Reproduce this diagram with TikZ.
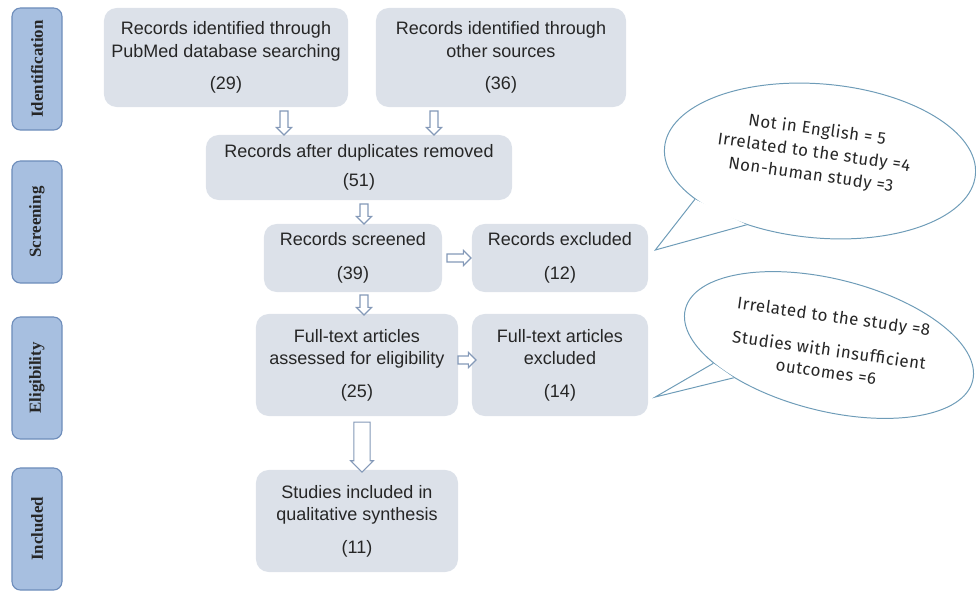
\documentclass[tikz,border=0pt]{standalone}
\usepackage{fontspec}
\setmainfont{Liberation Sans}
\newfontfamily\sidefont{Liberation Serif}
\newfontfamily\notefont[LetterSpace=3]{Fira Sans}
\usetikzlibrary{positioning, calc, shapes.arrows, shapes.geometric}

\definecolor{boxgray}{HTML}{DCE1E9}
\definecolor{sideblue}{HTML}{A7BFE0}
\definecolor{sideedge}{HTML}{6E8DBB}
\definecolor{arrowedge}{HTML}{8499B8}
\definecolor{noteedge}{HTML}{6E9CB8}

\tikzset{
  stage/.style={rectangle, rounded corners=6pt, fill=sideblue, draw=sideedge, line width=0.8pt,
    minimum width=3.05cm, minimum height=1.25cm, rotate=90,
    font=\sidefont\bfseries\fontsize{12}{14}\selectfont, text=black!85},
  record/.style={rectangle, rounded corners=9pt, fill=boxgray, align=center,
    font=\fontsize{12.8}{16}\selectfont, text=black!85, inner sep=2pt},
  downarrow/.style={single arrow, draw=arrowedge, fill=white, line width=0.8pt,
    shape border rotate=270, inner sep=0.85mm, minimum width=3.5mm,
    single arrow head extend=0.9mm, minimum height=6mm},
  rightarrow/.style={downarrow, shape border rotate=0},
  note/.style={ellipse, draw=noteedge, fill=white, line width=0.7pt, inner sep=0pt},
  notetail/.style={draw=noteedge, fill=white, line width=0.7pt, line join=miter},
  notetext/.style={align=center, rotate=-8, font=\notefont\fontsize{12}{16.3}\selectfont, text=black!85}
}

\begin{document}
\begin{tikzpicture}[x=0.025cm, y=-0.025cm]
  \useasboundingbox (0,0) rectangle (976,593);

  % Stage labels on the left
  \node[stage] (ident)  at (37,69)  {Identification};
  \node[stage] (screen) at (37,222) {Screening};
  \node[stage] (elig)   at (37,378) {Eligibility};
  \node[stage] (incl)   at (37,529) {Included};

  % Record boxes
  \node[record, minimum width=6.1cm, minimum height=2.475cm] (pubmed) at (226,57.5)
    {Records identified through\\PubMed database searching\\[7pt](29)};
  \node[record, minimum width=6.25cm, minimum height=2.475cm] (other) at (501,57.5)
    {Records identified through\\other sources\\[7pt](36)};
  \node[record, minimum width=7.65cm, minimum height=1.625cm] (dedup) at (359,167.5)
    {Records after duplicates removed\\[5pt](51)};
  \node[record, minimum width=4.45cm, minimum height=1.7cm] (screened) at (353,258)
    {Records screened\\[8pt](39)};
  \node[record, minimum width=4.4cm, minimum height=1.7cm] (excl) at (560,258)
    {Records excluded\\[8pt](12)};
  \node[record, minimum width=5.05cm, minimum height=2.55cm] (fulltext) at (357,365)
    {Full-text articles\\assessed for eligibility\\[7pt](25)};
  \node[record, minimum width=4.4cm, minimum height=2.55cm] (ftexcl) at (560,365)
    {Full-text articles\\excluded\\[7pt](14)};
  \node[record, minimum width=5.05cm, minimum height=2.55cm] (included) at (357,521)
    {Studies included in\\qualitative synthesis\\[7pt](11)};

  % Hollow arrows between boxes
  \coordinate (colA) at (284,0);
  \coordinate (colB) at (434,0);
  \coordinate (colC) at (364,0);
  \path (colA |- pubmed.south) -- (colA |- dedup.north) node[midway, downarrow] (arA) {};
  \path (colB |- other.south) -- (colB |- dedup.north) node[midway, downarrow] (arB) {};
  \path (colC |- dedup.south) -- (colC |- screened.north) node[midway, downarrow, minimum height=5mm] (arC) {};
  \path (colC |- screened.south) -- (colC |- fulltext.north) node[midway, downarrow, minimum height=5mm] (arD) {};
  \path (screened.east) -- (excl.west) node[midway, rightarrow] (arE) {};
  \path ($(fulltext.east)+(0,-5)$) -- ($(ftexcl.west)+(0,-5)$)
    node[midway, rightarrow, minimum height=4.5mm] (arF) {};
  \path (362,0 |- fulltext.south) -- (362,0 |- included.north)
    node[midway, downarrow, inner sep=1.9mm, single arrow head extend=0.8mm, minimum height=12.5mm] (arG) {};

  % Speech bubbles with reasons for exclusion
  \node[note, rotate=-5, minimum width=7.8cm, minimum height=3.85cm] (note1) at (820,161) {};
  \coordinate (tip1) at ($(excl.east)+(7,-8)$);
  \filldraw[notetail] (note1.202) -- (tip1) -- (note1.226);
  \node[notetext] (note1txt) at (814,153)
    {Not in English = 5\\Irrelated to the study =4\\Non-human study =3};

  \node[note, rotate=-14, minimum width=7.4cm, minimum height=3.3cm] (note2) at (829,345) {};
  \coordinate (tip2) at ($(ftexcl.east)+(7,32)$);
  \filldraw[notetail] (note2.203) -- (tip2) -- (note2.213);
  \node[notetext, font=\notefont\fontsize{12}{15.6}\selectfont] (note2txt) at (830,344)
    {Irrelated to the study =8\\[8.5pt]Studies with insufficient\\outcomes =6};
\end{tikzpicture}
\end{document}
